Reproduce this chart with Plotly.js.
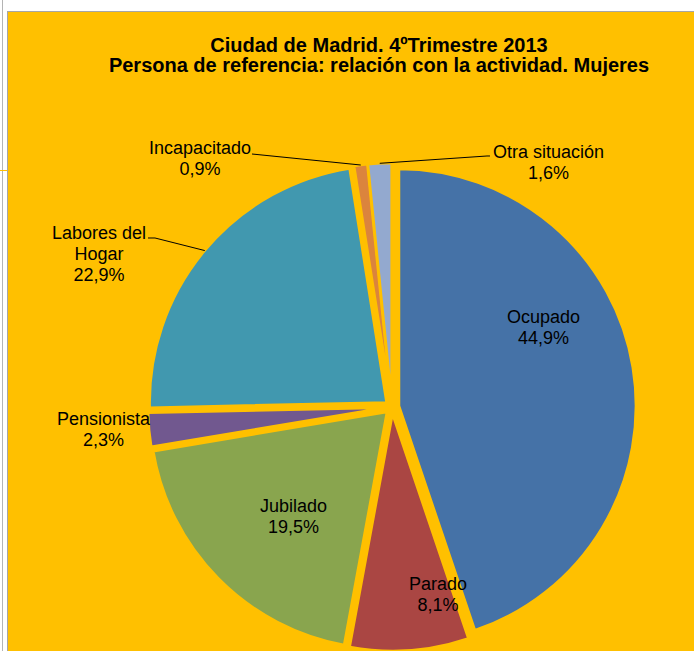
<!DOCTYPE html>
<html>
<head>
<meta charset="utf-8">
<script src="https://cdn.plot.ly/plotly-3.0.1.min.js"></script>
<style>
  html, body { margin: 0; padding: 0; background: #fff; overflow: hidden; }
  #page { position: relative; width: 694px; height: 651px; }
  #leftRule { position: absolute; left: 2px; top: 0; width: 1px; height: 651px; background: #b4b4b4; }
  #frame { position: absolute; left: 7px; top: 11px; right: 0; bottom: 0;
           background: #FFC000; border-left: 1px solid #a6a6a6; border-top: 1px solid #a6a6a6; }
  #tick { position: absolute; left: 0; top: 170px; width: 7px; height: 1px; background: #FFC000; }
  #chart { position: absolute; left: 0; top: 0; width: 694px; height: 651px; }
</style>
</head>
<body>
<div id="page">
  <div id="leftRule"></div>
  <div id="frame"></div>
  <div id="tick"></div>
  <div id="chart"></div>
</div>
<script>
// Persona de referencia (mujeres), % por relación con la actividad
const categories = ["Ocupado", "Parado", "Jubilado", "Pensionista",
                    "Labores del Hogar", "Incapacitado", "Otra situación"];
const percentages = [44.9, 8.1, 19.5, 2.3, 22.9, 0.9, 1.6];
const sliceColors = ["#4572A7", "#AA4643", "#89A54E", "#71588F",
                     "#4198AF", "#DB843D", "#93A9CF"];

const W = 694, H = 651;
const FONT = '"Liberation Sans", Arial, sans-serif';
const BG = "#FFC000";

// pie geometry (pixels)
const CX = 392, CY = 407, HALF = 244, PULL = 0.03;
const R = HALF / (1 + PULL);

// label centres (pixels) and leader line start points
const labelPos = [[543, 327], [438, 594], [293, 516], [104, 430],
                  [99, 254], [200, 158], [548, 162]];
const leaders = { 4: [[148, 238], [155, 238]], 5: [[252, 154]], 6: [[490, 156], [487, 156]] };
const lineBreaks = { "Labores del Hogar": "Labores del<br>Hogar" };

const px = x => x / W;
const py = y => 1 - y / H;

function fmtPct(v) {
  return v.toFixed(1).replace(".", ",") + "%";
}

// text at `size` px, line spacing comes from the base font size (1.3em)
function spaced(text, size) {
  return text.split("<br>").map(t => `<span style="font-size:${size}px">${t}</span>`).join("<br>");
}

const total = percentages.reduce((a, b) => a + b, 0);

// point on outer edge of a pulled slice, at its mid angle
function sliceTip(i) {
  let before = 0;
  for (let k = 0; k < i; ++k) before += percentages[k];
  const mid = (before + percentages[i] / 2) / total * 2 * Math.PI;
  const d = R * (1 + PULL);
  return [CX + d * Math.sin(mid), CY - d * Math.cos(mid)];
}

const annotations = categories.map((name, i) => ({
  xref: "paper", yref: "paper",
  x: px(labelPos[i][0]), y: py(labelPos[i][1]),
  xanchor: "center", yanchor: "middle",
  showarrow: false,
  align: "center",
  text: spaced((lineBreaks[name] || name) + "<br>" + fmtPct(percentages[i]), 18),
  font: { family: FONT, size: 21 / 1.3, color: "#000" },
}));

const shapes = Object.keys(leaders).map(k => {
  const pts = leaders[k].concat([sliceTip(+k)]);
  const path = pts.map((p, j) => (j ? "L" : "M") + px(p[0]).toFixed(5) + "," + py(p[1]).toFixed(5)).join(" ");
  return {
    type: "path", xref: "paper", yref: "paper", path: path,
    line: { color: "#000", width: 1 },
  };
});

const trace = {
  type: "pie",
  labels: categories,
  values: percentages,
  sort: false,
  direction: "clockwise",
  rotation: 0,
  pull: PULL,
  marker: { colors: sliceColors, line: { color: BG, width: 2.5 } },
  textinfo: "none",
  hoverinfo: "skip",
  showlegend: false,
  domain: { x: [px(CX - HALF), px(CX + HALF)], y: [py(CY + HALF), py(CY - HALF)] },
};

const layout = {
  width: W, height: H,
  margin: { l: 0, r: 0, t: 0, b: 0 },
  paper_bgcolor: "rgba(0,0,0,0)",
  plot_bgcolor: "rgba(0,0,0,0)",
  showlegend: false,
  title: {
    text: spaced("<b>Ciudad de Madrid. 4ºTrimestre 2013</b><br><b>Persona de referencia: relación con la actividad. Mujeres</b>", 20),
    font: { family: FONT, size: 20 / 1.3, color: "#000" },
    x: px(379), xanchor: "center",
    y: py(52), yanchor: "middle",
  },
  annotations: annotations,
  shapes: shapes,
};

Plotly.newPlot("chart", [trace], layout, { displayModeBar: false, staticPlot: true });
</script>
</body>
</html>
